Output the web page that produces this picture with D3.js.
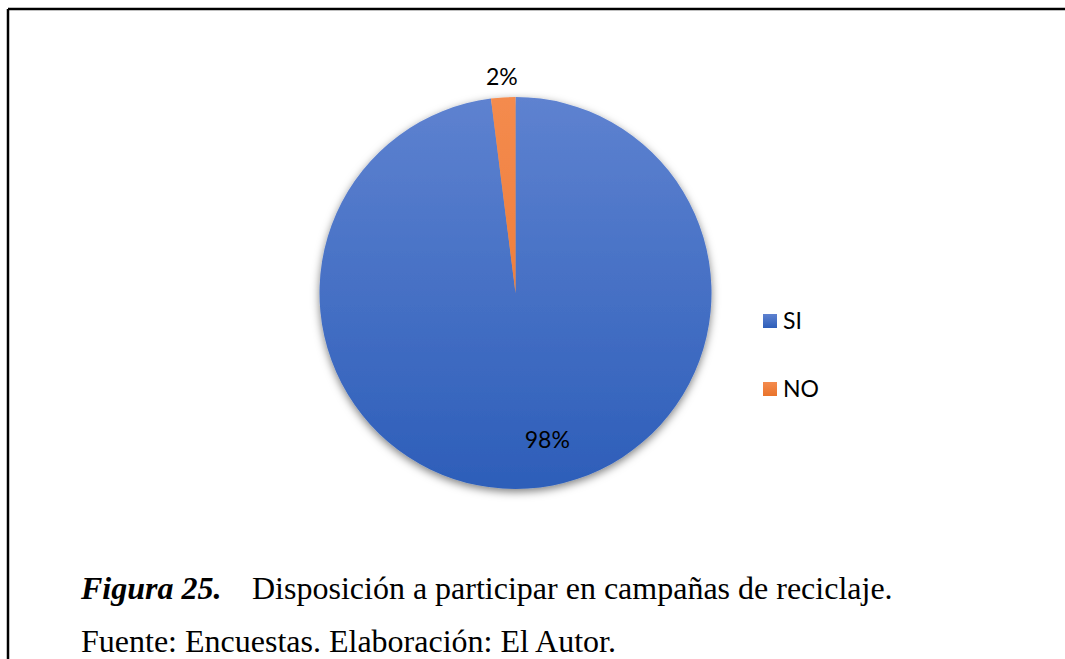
<!DOCTYPE html>
<html>
<head>
<meta charset="utf-8">
<script src="https://cdn.jsdelivr.net/npm/d3@7"></script>
<style>
  body { margin: 0; background: #fff; }
  svg { display: block; }
</style>
</head>
<body>
<svg id="chart" width="1065" height="659"></svg>
<script>
// data
const categories = ["SI", "NO"];
const values = [98, 2];
const labels = ["98%", "2%"];
const colorsTop = ["#5e82d0", "#f48b4e"];
const colorsBottom = ["#2d5eb9", "#e9732b"];

const width = 1065, height = 659;
const cx = 515.5, cy = 293, radius = 196;

const svg = d3.select("#chart");
const defs = svg.append("defs");

// vertical gradients like the office theme fill (pie group space)
categories.forEach((c, i) => {
  let g = defs.append("linearGradient")
    .attr("id", "grad" + i)
    .attr("gradientUnits", "userSpaceOnUse")
    .attr("x1", 0).attr("y1", -radius)
    .attr("x2", 0).attr("y2", radius);
  g.append("stop").attr("offset", "0%").attr("stop-color", colorsTop[i]);
  g.append("stop").attr("offset", "100%").attr("stop-color", colorsBottom[i]);

  let lg = defs.append("linearGradient").attr("id", "lg" + i)
    .attr("x1", 0).attr("y1", 0).attr("x2", 0).attr("y2", 1);
  lg.append("stop").attr("offset", "0%").attr("stop-color", colorsTop[i]);
  lg.append("stop").attr("offset", "100%").attr("stop-color", colorsBottom[i]);
});

let shadow = defs.append("filter").attr("id", "shadow")
  .attr("x", "-10%").attr("y", "-10%").attr("width", "120%").attr("height", "120%");
shadow.append("feDropShadow")
  .attr("dx", 0).attr("dy", 3)
  .attr("stdDeviation", 4)
  .attr("flood-color", "#000")
  .attr("flood-opacity", 0.5);

// frame
svg.append("line").attr("x1", 8).attr("y1", 9).attr("x2", width).attr("y2", 9)
  .attr("stroke", "#000").attr("stroke-width", 2.5);
svg.append("line").attr("x1", 8).attr("y1", 9).attr("x2", 8).attr("y2", height)
  .attr("stroke", "#000").attr("stroke-width", 2.5);

const pie = d3.pie().sort(null).value(d => d)(values);
const arc = d3.arc().innerRadius(0).outerRadius(radius);

const g = svg.append("g").attr("transform", `translate(${cx},${cy})`);

g.append("g").attr("filter", "url(#shadow)")
  .selectAll("path")
  .data(pie)
  .join("path")
  .attr("d", arc)
  .attr("fill", (d, i) => `url(#grad${i})`);

// labels: big slice inside, small slice outside
const inner = d3.arc().innerRadius(radius * 0.75).outerRadius(radius * 0.75);
const outer = d3.arc().innerRadius(radius * 1.105).outerRadius(radius * 1.105);

g.selectAll("text.lbl")
  .data(pie)
  .join("text")
  .attr("class", "lbl")
  .attr("x", (d, i) => (i === 0 ? inner : outer).centroid(d)[0])
  .attr("y", (d, i) => (i === 0 ? inner : outer).centroid(d)[1])
  .attr("dy", "0.35em")
  .attr("text-anchor", (d, i) => i === 0 ? "start" : "middle")
  .style("font-family", "Lato, 'Open Sans', sans-serif")
  .style("font-size", "23px")
  .style("fill", "#000")
  .text((d, i) => labels[i]);

// legend
const legendY = d3.scalePoint().domain(categories).range([321, 389]);
const legend = svg.append("g").selectAll("g")
  .data(categories)
  .join("g")
  .attr("transform", d => `translate(763,${legendY(d)})`);

legend.append("rect")
  .attr("x", 0).attr("y", -7)
  .attr("width", 14).attr("height", 14)
  .attr("fill", (d, i) => `url(#lg${i})`);

legend.append("text")
  .attr("x", 20).attr("y", 0).attr("dy", "0.35em")
  .style("font-family", "Lato, 'Open Sans', sans-serif")
  .style("font-size", "23px")
  .text(d => d);

// caption
const cap = svg.append("text")
  .attr("x", 81).attr("y", 599)
  .style("font-family", "'Liberation Serif', 'Times New Roman', serif")
  .style("font-size", "32px")
  .style("fill", "#000");
cap.append("tspan").style("font-weight", "bold").style("font-style", "italic").text("Figura 25.");
cap.append("tspan").attr("x", 252).text("Disposición a participar en campañas de reciclaje.");

svg.append("text")
  .attr("x", 81).attr("y", 652)
  .style("font-family", "'Liberation Serif', 'Times New Roman', serif")
  .style("font-size", "32px")
  .style("fill", "#000")
  .text("Fuente: Encuestas. Elaboración: El Autor.");
</script>
</body>
</html>
